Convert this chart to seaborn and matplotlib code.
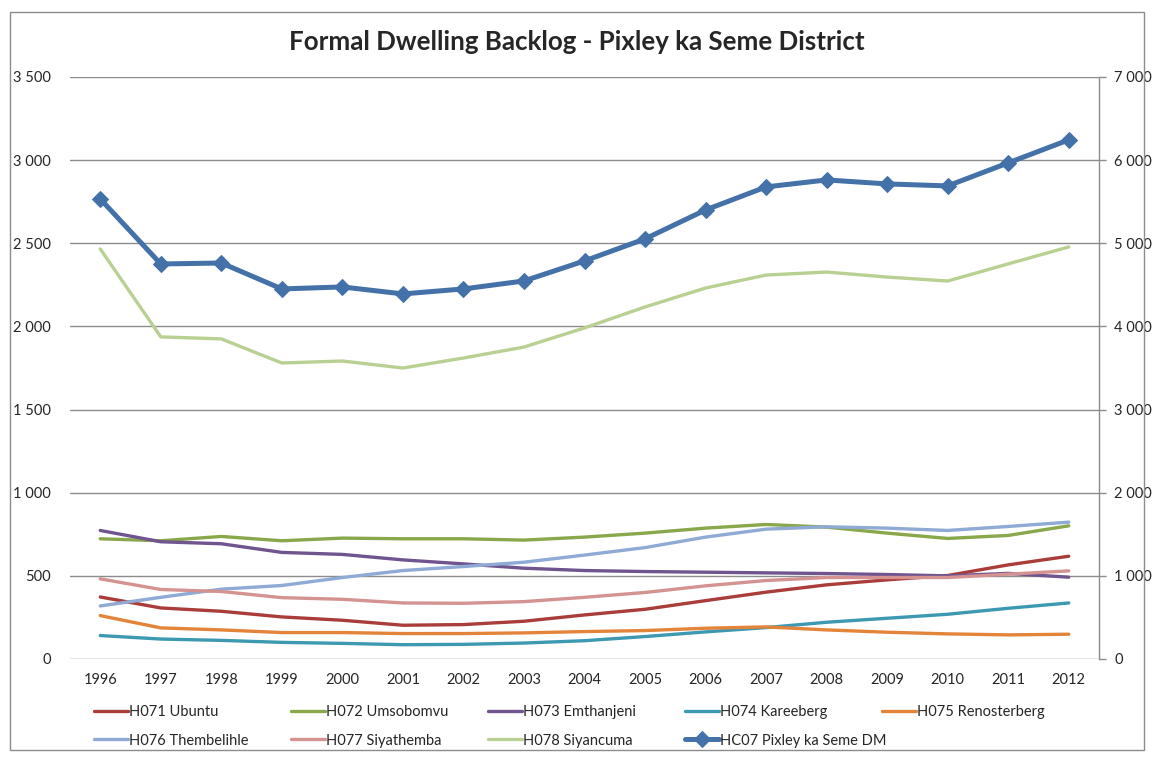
import numpy as np
import pandas as pd
import matplotlib
matplotlib.use("Agg")
import matplotlib.pyplot as plt
import seaborn as sns
from matplotlib.ticker import FuncFormatter, MultipleLocator
from matplotlib.patches import Rectangle

years = list(range(1996, 2013))

h071_ubuntu = [373, 307, 287, 253, 233, 203, 207, 227, 265, 299, 351, 402, 446, 476, 502, 566, 618]
h072_umsobomvu = [723, 711, 737, 711, 727, 723, 723, 715, 733, 757, 787, 809, 793, 757, 725, 743, 801]
h073_emthanjeni = [773, 705, 693, 641, 629, 596, 572, 546, 532, 526, 522, 518, 514, 508, 500, 515, 492]
h074_kareeberg = [141, 120, 112, 100, 94, 86, 88, 96, 110, 135, 163, 189, 221, 245, 269, 305, 337]
h075_renosterberg = [261, 187, 175, 159, 159, 153, 153, 157, 165, 171, 185, 193, 175, 161, 151, 145, 149]
h076_thembelihle = [319, 371, 420, 442, 490, 532, 556, 582, 625, 670, 733, 781, 795, 787, 773, 797, 823]
h077_siyathemba = [482, 418, 406, 369, 359, 337, 335, 345, 371, 400, 440, 472, 490, 490, 490, 510, 530]
h078_siyancuma = [2466, 1937, 1925, 1780, 1792, 1750, 1810, 1876, 1991, 2117, 2231, 2309, 2327, 2297, 2273, 2376, 2478]
hc07_pixley = [5533, 4751, 4763, 4451, 4475, 4391, 4451, 4547, 4788, 5053, 5401, 5678, 5762, 5714, 5690, 5967, 6244]

local_names = ["H071 Ubuntu", "H072 Umsobomvu", "H073 Emthanjeni", "H074 Kareeberg",
               "H075 Renosterberg", "H076 Thembelihle", "H077 Siyathemba", "H078 Siyancuma"]
local_values = [h071_ubuntu, h072_umsobomvu, h073_emthanjeni, h074_kareeberg,
                h075_renosterberg, h076_thembelihle, h077_siyathemba, h078_siyancuma]
local_colors = ["#AA3D3A", "#89A74B", "#6F548F", "#3C99B1",
                "#E3843A", "#8FAAD4", "#D49391", "#B9D093"]
district_name = "HC07 Pixley ka Seme DM"
district_color = "#4371A8"

sns.set_style("white")
plt.rcParams["font.family"] = ["Lato", "DejaVu Sans"]


def space_thousands(v, pos):
    return f"{v:,.0f}".replace(",", " ")


fig = plt.figure(figsize=(11.54, 7.58), dpi=100)
ax = fig.add_axes([70 / 1154, 1 - 659 / 758, 1029 / 1154, 582 / 758])
ax2 = ax.twinx()

handles = []
for name, vals, col in zip(local_names, local_values, local_colors):
    df = pd.DataFrame({"year": years, "value": vals})
    sns.lineplot(data=df, x="year", y="value", ax=ax, color=col, lw=2.4, label=name, legend=False)
    handles.append(ax.lines[-1])

df = pd.DataFrame({"year": years, "value": hc07_pixley})
sns.lineplot(data=df, x="year", y="value", ax=ax2, color=district_color, lw=3.6,
             marker="D", markersize=8, markeredgecolor=district_color, label=district_name,
             legend=False)
handles.append(ax2.lines[-1])

ax.set_xlim(1995.5, 2012.5)
ax.set_ylim(0, 3500)
ax2.set_ylim(0, 7000)
ax.yaxis.set_major_locator(MultipleLocator(500))
ax2.yaxis.set_major_locator(MultipleLocator(1000))
ax.yaxis.set_major_formatter(FuncFormatter(space_thousands))
ax2.yaxis.set_major_formatter(FuncFormatter(space_thousands))
ax.set_xticks(years)
ax.set_xticklabels([str(y) for y in years])
ax.grid(axis="y", color="#8C8C8C", lw=1.0)
ax.set_axisbelow(True)
ax.set_xlabel("")
ax.set_ylabel("")
ax2.set_ylabel("")

for a in (ax, ax2):
    for s in ("top", "left", "bottom", "right"):
        a.spines[s].set_visible(False)
ax2.spines["right"].set_visible(True)
ax2.spines["right"].set_color("#8C8C8C")
ax2.spines["right"].set_linewidth(1.0)

ax.tick_params(axis="y", length=0, pad=14, labelsize=10.5)
ax.tick_params(axis="x", length=0, pad=10, labelsize=10.5)
ax2.tick_params(axis="y", length=5, width=1.0, color="#8C8C8C", pad=6, labelsize=10.5, right=True)

fig.text(0.5, 1 - 42 / 758, "Formal Dwelling Backlog - Pixley ka Seme District",
         ha="center", va="center", fontsize=18.6, fontweight="bold")

# legend: Excel lays out rows first with equal column widths -> one small legend per column
columns = [[0, 5], [1, 6], [2, 7], [3, 8], [4]]
col_x = [94, 291, 488, 685, 882]
for xpos, idx in zip(col_x, columns):
    fig.legend([handles[i] for i in idx], [handles[i].get_label() for i in idx],
               loc="upper left", bbox_to_anchor=(xpos / 1154, 1 - 705 / 758),
               frameon=False, fontsize=10.5, handlelength=2.3, handletextpad=0.1,
               labelspacing=1.0, borderaxespad=0, borderpad=0)

fig.patches.append(Rectangle((10 / 1154, 8 / 758), 1134 / 1154, 738 / 758, transform=fig.transFigure,
                             fill=False, edgecolor="#8C8C8C", lw=1.0))

fig.savefig("out.png", dpi=100)
